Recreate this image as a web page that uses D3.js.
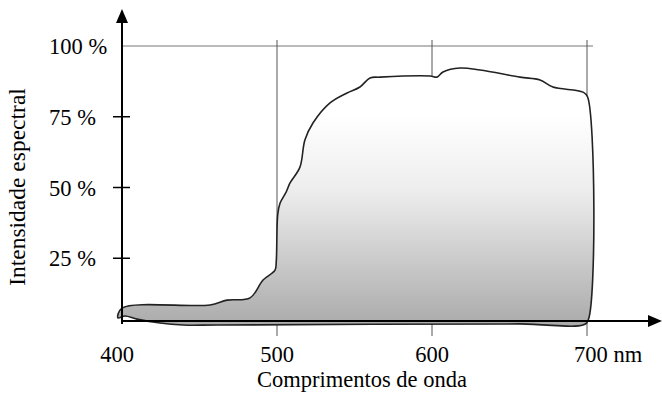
<!DOCTYPE html>
<html>
<head>
<meta charset="utf-8">
<script src="https://cdn.jsdelivr.net/npm/d3@7"></script>
<style>
  body { margin: 0; background: #fff; }
  text { font-family: "Liberation Serif", "DejaVu Serif", serif; fill: #000; }
</style>
</head>
<body>
<svg width="662" height="402"></svg>
<script>
// spectrum outline, upper edge (nm, %)
const upperNm  = [400, 456.8, 467.7, 482.6, 491, 498.7, 499.5, 500.5, 502, 506, 508.4, 514.8, 518, 523.2, 534.2, 545.2, 553.5, 560, 566.5, 598.7, 603.2, 607.1, 618, 631, 656.8, 669.7, 678, 697.4, 700.4, 700.8];
const upperPct = [7.4, 8.5, 10.2, 11.0, 17.3, 20.8, 23.7, 40.6, 44.5, 48.5, 51.6, 57.2, 66.8, 72.8, 79.9, 83.4, 85.5, 88.7, 89.0, 89.4, 89.0, 90.8, 92.2, 91.5, 89.0, 88.0, 85.5, 83.7, 82.0, 3.2];
// lower edge, going back from right to left
const lowerNm  = [697.4, 656.8, 461.3, 439.4, 424.5, 409.7, 402, 397.4];
const lowerPct = [1.4, 1.8, 1.4, 1.4, 2.1, 3.5, 4.6, 3.9];

const xTicks = [400, 500, 600, 700];
const yTicks = [25, 50, 75, 100];
const xLabel = "Comprimentos de onda";
const yLabel = "Intensidade espectral";

const svg = d3.select("svg");
const x = d3.scaleLinear().domain([400, 700]).range([122, 587]);
const y = d3.scaleLinear().domain([0, 100]).range([329, 46]);
const axisY = 321;

// gradient fill
const grad = svg.append("defs").append("linearGradient")
  .attr("id", "fillGrad")
  .attr("gradientUnits", "userSpaceOnUse")
  .attr("x1", 0).attr("x2", 0).attr("y1", 115).attr("y2", 325);
grad.append("stop").attr("offset", 0).attr("stop-color", "#ffffff");
grad.append("stop").attr("offset", 0.35).attr("stop-color", "#eeeeee");
grad.append("stop").attr("offset", 1).attr("stop-color", "#ababab");

// grid lines
svg.append("line")
  .attr("x1", x(400)).attr("x2", 593)
  .attr("y1", y(100)).attr("y2", y(100))
  .attr("stroke", "#777").attr("stroke-width", 1);
svg.append("g")
  .selectAll("line")
  .data(xTicks.slice(1))
  .join("line")
  .attr("x1", d => x(d)).attr("x2", d => x(d))
  .attr("y1", 40).attr("y2", 336)
  .attr("stroke", "#555").attr("stroke-width", 1);

// spectrum shape
const pts = upperNm.map((d, i) => [d, upperPct[i]])
  .concat(lowerNm.map((d, i) => [d, lowerPct[i]]));
const line = d3.line()
  .x(d => x(d[0]))
  .y(d => y(d[1]))
  .curve(d3.curveCatmullRomClosed.alpha(0.5));
svg.append("path")
  .attr("d", line(pts))
  .attr("fill", "url(#fillGrad)")
  .attr("stroke", "#222")
  .attr("stroke-width", 1.6)
  .attr("stroke-linejoin", "round");

// axes
svg.append("line")
  .attr("x1", x(400)).attr("x2", 650)
  .attr("y1", axisY).attr("y2", axisY)
  .attr("stroke", "#000").attr("stroke-width", 2);
svg.append("path")
  .attr("d", `M662,${axisY} L648,${axisY - 6} L648,${axisY + 6} Z`)
  .attr("fill", "#000");
svg.append("line")
  .attr("x1", x(400)).attr("x2", x(400))
  .attr("y1", 324).attr("y2", 20)
  .attr("stroke", "#000").attr("stroke-width", 2);
svg.append("path")
  .attr("d", `M${x(400)},9 L${x(400) - 6},23 L${x(400) + 6},23 Z`)
  .attr("fill", "#000");

// y ticks
svg.append("g")
  .selectAll("line")
  .data(yTicks.slice(0, 3))
  .join("line")
  .attr("x1", 113).attr("x2", 130)
  .attr("y1", d => y(d)).attr("y2", d => y(d))
  .attr("stroke", "#000").attr("stroke-width", 1.5);

svg.append("g")
  .selectAll("text")
  .data(yTicks)
  .join("text")
  .attr("x", 49)
  .attr("y", d => y(d) + 8)
  .attr("font-size", 22.5)
  .text(d => d + " %");

svg.append("g")
  .selectAll("text")
  .data(xTicks)
  .join("text")
  .attr("x", d => d === 700 ? x(d) - 13 : x(d) - (d === 400 ? 5 : 0))
  .attr("y", 362)
  .attr("font-size", 22.5)
  .attr("text-anchor", d => d === 700 ? "start" : "middle")
  .text(d => d === 700 ? d + " nm" : d);

svg.append("text")
  .attr("x", 362).attr("y", 387)
  .attr("font-size", 22.5)
  .attr("text-anchor", "middle")
  .text(xLabel);

svg.append("text")
  .attr("transform", "translate(25,187) rotate(-90)")
  .attr("font-size", 23.5)
  .attr("text-anchor", "middle")
  .text(yLabel);
</script>
</body>
</html>
